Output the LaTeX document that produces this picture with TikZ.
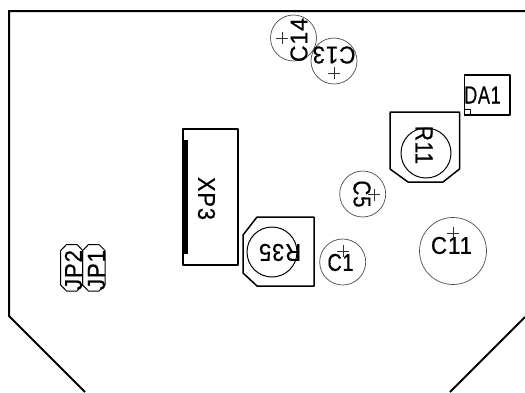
\documentclass[tikz,border=0pt]{standalone}
\usepackage{fontspec}
\usepackage{graphicx}
\setmainfont{Liberation Sans}[FakeBold=0.6,LetterSpace=4]
\tikzset{
  board/.style={draw=black,line width=2pt,line join=miter},
  pkg/.style={draw=black,line width=1.5pt,line join=round},
  capring/.style={draw=black!70,line width=0.7pt},
  plusmark/.style={draw=black!80,line width=0.7pt},
  lbl/.style={inner sep=0pt,font=\bfseries\fontsize{24}{24}\selectfont,text=black},
}
\setmainfont{Liberation Sans}[BoldFont=Liberation Sans,BoldFeatures={FakeBold=0.6},LetterSpace=4]
\newcommand{\plusat}[2]{\draw[plusmark] (#1-6,#2) -- (#1+6,#2) (#1,#2-6) -- (#1,#2+6);}
\newcommand{\lblfit}[2]{\resizebox{#1pt}{17pt}{#2}}
\begin{document}
\begin{tikzpicture}[x=1pt,y=-1pt]
\useasboundingbox (0,0) rectangle (525,392);
% board outline
\draw[board] (85,392) -- (9,316) -- (9,11) -- (525,11);
\draw[board] (525,317) -- (450,392);
% XP3
\draw[pkg] (183,129) rectangle (238,265);
\fill[black] (183,140) rectangle (187.5,254);
\node[lbl,rotate=-90] (xp3) at (206.5,198.5) {\lblfit{43}{XP3}};
% DA1
\draw[pkg] (464.5,75) rectangle (510,115);
\draw[pkg,line width=1pt] (464.5,109.5) rectangle (470,115);
\node[lbl] (da1) at (482.5,95) {\lblfit{36.5}{DA1}};
% R11
\draw[pkg] (390,112) -- (459.5,112) -- (459.5,169) -- (443,182) -- (408,182) -- (390,169) -- cycle;
\draw[pkg,line width=1pt] (426,153) circle[radius=25];
\node[lbl,rotate=-90] (r11) at (424,145) {\lblfit{38}{R11}};
% R35
\draw[pkg] (314,217) -- (314,286) -- (257,286) -- (243,273) -- (243,235) -- (257,217) -- cycle;
\draw[pkg,line width=1pt] (272,252) circle[radius=25];
\node[lbl,rotate=180] (r35) at (280,252.5) {\lblfit{42}{R35}};
% capacitors
\draw[capring] (293.5,38) circle[radius=23];
\plusat{282}{38}
\node[lbl,rotate=90] (c14) at (299,40) {\lblfit{44}{C14}};
\draw[capring] (334,61) circle[radius=23];
\plusat{334}{73}
\node[lbl,rotate=180] (c13) at (334,55) {\lblfit{43}{C13}};
\draw[capring] (362.7,194) circle[radius=23];
\plusat{374}{194.5}
\node[lbl,rotate=-90] (c5) at (362,194) {\lblfit{27}{C5}};
\draw[capring] (342.7,262) circle[radius=23];
\plusat{343}{251}
\node[lbl] (c1) at (340.5,262.5) {\lblfit{26}{C1}};
\draw[capring] (453,251) circle[radius=33.5];
\plusat{453}{233}
\node[lbl] (c11) at (451.5,245.5) {\lblfit{41}{C11}};
% jumpers
\draw[pkg,line width=1pt] (66.5,244.5) -- (77,244.5) -- (82.7,250.5) -- (82.7,285) -- (77,291) -- (66.5,291) -- (60.7,285) -- (60.7,250.5) -- cycle;
\draw[pkg,line width=1pt] (88.5,244.5) -- (99,244.5) -- (105,250.5) -- (105,285) -- (99,291) -- (88.5,291) -- (82.7,285) -- (82.7,250.5) -- cycle;
\node[lbl,rotate=90] (jp2) at (73.5,270) {\lblfit{40}{JP2}};
\node[lbl,rotate=90] (jp1) at (96.5,270) {\lblfit{40}{JP1}};
\end{tikzpicture}
\end{document}
